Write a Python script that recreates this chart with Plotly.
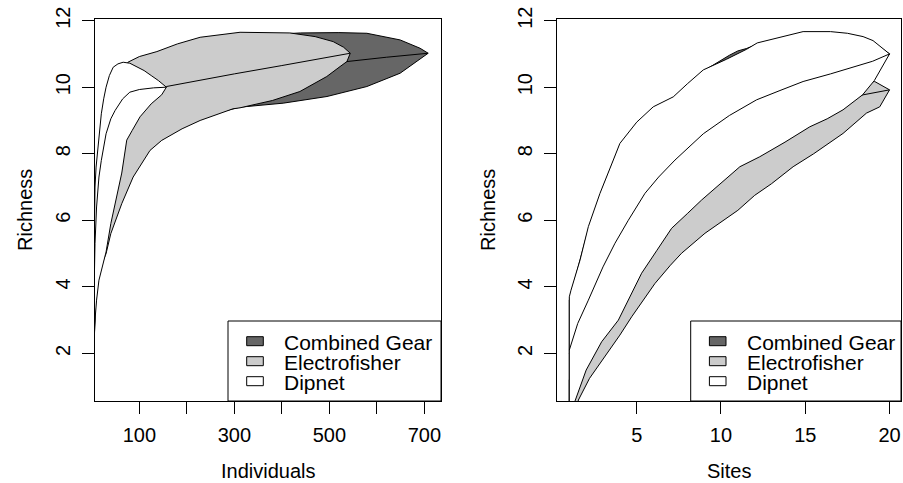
import plotly.graph_objects as go

# ---------------- Left panel: individual-based rarefaction ----------------
ind_comb_up_x = [1, 5, 10, 20, 40, 76, 150, 250, 350, 439, 520, 579, 649, 691, 708]
ind_comb_up_y = [1, 4.0, 6.0, 8.0, 9.5, 10.5, 11.0, 11.4, 11.56, 11.63, 11.64, 11.62, 11.42, 11.17, 11.02]
ind_comb_mean_x = [1, 10, 20, 40, 80, 150, 250, 350, 450, 537, 620, 708]
ind_comb_mean_y = [1, 4.2, 6.0, 7.6, 8.9, 9.7, 10.15, 10.42, 10.6, 10.77, 10.9, 11.02]
ind_comb_lo_x = [1, 6.7, 10, 20, 30, 60, 100, 200, 312, 403, 495, 579, 649, 708]
ind_comb_lo_y = [1, 3.5, 4.2, 5.2, 5.8, 7.0, 7.9, 9.0, 9.4, 9.52, 9.72, 10.02, 10.42, 11.02]

ind_ef_up_x = [1, 5, 10, 20, 35, 50, 76, 100, 137, 180, 228, 312, 417, 470, 508, 530, 544]
ind_ef_up_y = [1, 4.0, 6.5, 8.4, 9.6, 10.2, 10.75, 10.92, 11.07, 11.3, 11.5, 11.65, 11.63, 11.52, 11.37, 11.2, 11.02]
ind_ef_mean_x = [1, 10, 20, 34, 60, 100, 157, 228, 300, 400, 480, 544]
ind_ef_mean_y = [1, 4.5, 6.3, 7.5, 8.6, 9.45, 10.02, 10.22, 10.4, 10.65, 10.85, 11.02]
ind_ef_lo_x = [1, 6.7, 10, 15, 20, 30, 40, 63, 87, 122.5, 147, 190, 228, 297, 312, 380, 438, 494.5, 522.5, 537, 544]
ind_ef_lo_y = [1, 3.3, 3.9, 4.4, 4.65, 5.0, 5.6, 6.5, 7.3, 8.1, 8.4, 8.75, 9.0, 9.35, 9.38, 9.6, 9.87, 10.32, 10.62, 10.77, 11.02]

ind_dip_up_x = [1, 4, 6.7, 9, 12.4, 16, 20, 25, 30, 37, 45, 55, 66, 80, 95, 110, 125, 140, 157]
ind_dip_up_y = [1, 5.0, 7.0, 7.6, 8.1, 8.7, 9.2, 9.65, 10.0, 10.35, 10.6, 10.7, 10.75, 10.72, 10.62, 10.5, 10.35, 10.2, 10.0]
ind_dip_mean_x = [1, 4, 6.7, 10, 15, 20, 24, 30, 40, 49, 65, 80, 100, 130, 157]
ind_dip_mean_y = [1, 3.5, 5.3, 6.4, 7.3, 7.8, 8.1, 8.6, 9.05, 9.3, 9.65, 9.85, 9.93, 9.98, 10.0]
ind_dip_lo_x = [1, 4, 6.7, 10, 15, 22, 30, 40, 49, 63, 73.5, 85, 101.5, 125, 147, 157]
ind_dip_lo_y = [1, 2.0, 3.0, 3.6, 4.2, 4.6, 5.05, 5.9, 6.5, 7.42, 8.41, 8.7, 9.11, 9.5, 9.77, 10.0]

# ---------------- Right panel: sample-based rarefaction ----------------
site_comb_up_x = [1, 2, 3, 4, 5, 6, 7, 8, 9, 10, 10.5, 11, 11.5, 12, 13, 14, 15, 16, 17, 18, 19, 20]
site_comb_up_y = [3.6, 5.5, 7.0, 8.25, 8.9, 9.36, 9.62, 10.04, 10.5, 10.82, 10.96, 11.09, 11.16, 11.26, 11.4, 11.52, 11.62, 11.62, 11.6, 11.54, 11.36, 11.0]
site_comb_mean_x = [1, 2, 3, 4, 5, 6, 7, 8, 9, 10, 11, 12, 13, 14, 15, 16, 17, 18, 19, 20]
site_comb_mean_y = [2.0, 3.5, 4.5, 5.6, 6.4, 7.0, 7.6, 8.2, 8.5, 8.9, 9.3, 9.6, 9.8, 10.05, 10.2, 10.4, 10.55, 10.65, 10.8, 11.0]
site_comb_lo_x = [1, 2, 3, 4, 5, 6, 7, 8, 9, 10, 11, 12, 13, 14, 15, 16, 17, 18, 19, 20]
site_comb_lo_y = [0.0, 1.7, 2.6, 3.3, 4.2, 5.05, 5.85, 6.3, 6.8, 7.2, 7.7, 8.0, 8.3, 8.6, 8.9, 9.2, 9.4, 9.9, 10.3, 11.0]

site_ef_up_x = [1, 2, 4, 6, 8, 10, 12, 14, 16, 18, 19.12, 20]
site_ef_up_y = [1.2, 3.0, 5.0, 6.5, 7.6, 8.4, 9.0, 9.4, 9.8, 10.1, 10.17, 9.92]
site_ef_mean_x = [1, 2, 4, 6, 8, 10, 12, 14, 16, 17.24, 18.43, 20]
site_ef_mean_y = [0.6, 2.0, 4.0, 5.4, 6.6, 7.4, 8.1, 8.7, 9.3, 9.55, 9.77, 9.92]
site_ef_lo_x = [1, 1.54, 2.2, 3.12, 4.0, 4.7, 6.08, 7.0, 7.66, 9.05, 10.0, 11.0, 12.0, 13.0, 14.28, 15.5, 17.24, 18.63, 19.42, 20]
site_ef_lo_y = [-0.6, 0.6, 1.25, 1.9, 2.55, 3.1, 4.1, 4.65, 5.01, 5.61, 5.95, 6.3, 6.75, 7.1, 7.61, 8.0, 8.61, 9.22, 9.41, 9.92]

site_dip_up_x = [1, 1.1, 1.64, 2.13, 2.82, 3.12, 3.61, 4.0, 5.0, 5.98, 7.17, 8.0, 8.95, 10.33, 11.52, 12.15, 13.5, 14.87, 16.5, 17.5, 18.43, 19.02, 20]
site_dip_up_y = [3.7, 3.9, 4.81, 5.81, 6.81, 7.21, 7.81, 8.31, 8.95, 9.41, 9.71, 10.1, 10.52, 10.84, 11.14, 11.33, 11.5, 11.67, 11.67, 11.62, 11.52, 11.4, 11.0]
site_dip_mean_x = [1, 1.5, 2.13, 3.0, 3.71, 4.5, 5.49, 6.3, 7.27, 8.1, 8.95, 10.5, 12.11, 13.5, 14.87, 16.5, 18.04, 19.0, 20]
site_dip_mean_y = [2.1, 2.9, 3.6, 4.6, 5.31, 6.0, 6.81, 7.3, 7.81, 8.2, 8.6, 9.15, 9.62, 9.9, 10.17, 10.4, 10.62, 10.78, 11.0]
site_dip_lo_x = [1, 1.34, 2.0, 2.92, 3.91, 5.29, 6.2, 7.07, 8.0, 8.85, 10.0, 11.12, 12.3, 13.8, 15.27, 16.3, 17.24, 18.4, 19.1, 20]
site_dip_lo_y = [-0.3, 0.57, 1.5, 2.35, 3.0, 4.41, 5.1, 5.76, 6.2, 6.61, 7.12, 7.61, 7.91, 8.35, 8.81, 9.05, 9.32, 9.77, 10.2, 11.0]

# ---------------- Axes / labels ----------------
ind_ticks = [100, 200, 300, 400, 500, 600, 700]
ind_ticktext = ["100", "", "300", "", "500", "", "700"]
site_ticks = [5, 10, 15, 20]
site_ticktext = ["5", "10", "15", "20"]
rich_ticks = [2, 4, 6, 8, 10, 12]
rich_ticktext = ["2", "4", "6", "8", "10", "12"]
legend_labels = ["Combined Gear", "Electrofisher", "Dipnet"]
fill_colors = ["#666666", "#cccccc", "#ffffff"]

W, H = 903, 483
FONT = "Liberation Sans, Arial, Helvetica, sans-serif"

def px(xp):
    return xp / W

def py(yp):
    return (H - yp) / H

fig = go.Figure()

def add_band(ux, uy, mx, my, lx, ly, color, xa, ya):
    bx = list(ux) + list(lx)[::-1] + [ux[0]]
    by = list(uy) + list(ly)[::-1] + [uy[0]]
    fig.add_trace(go.Scatter(x=bx, y=by, mode="lines", fill="toself", fillcolor=color,
                             line=dict(color="black", width=1), xaxis=xa, yaxis=ya,
                             hoverinfo="skip", showlegend=False))
    fig.add_trace(go.Scatter(x=mx, y=my, mode="lines", line=dict(color="black", width=1),
                             xaxis=xa, yaxis=ya, hoverinfo="skip", showlegend=False))

add_band(ind_comb_up_x, ind_comb_up_y, ind_comb_mean_x, ind_comb_mean_y, ind_comb_lo_x, ind_comb_lo_y, fill_colors[0], "x", "y")
add_band(ind_ef_up_x, ind_ef_up_y, ind_ef_mean_x, ind_ef_mean_y, ind_ef_lo_x, ind_ef_lo_y, fill_colors[1], "x", "y")
add_band(ind_dip_up_x, ind_dip_up_y, ind_dip_mean_x, ind_dip_mean_y, ind_dip_lo_x, ind_dip_lo_y, fill_colors[2], "x", "y")

add_band(site_comb_up_x, site_comb_up_y, site_comb_mean_x, site_comb_mean_y, site_comb_lo_x, site_comb_lo_y, fill_colors[0], "x2", "y2")
add_band(site_ef_up_x, site_ef_up_y, site_ef_mean_x, site_ef_mean_y, site_ef_lo_x, site_ef_lo_y, fill_colors[1], "x2", "y2")
add_band(site_dip_up_x, site_dip_up_y, site_dip_mean_x, site_dip_mean_y, site_dip_lo_x, site_dip_lo_y, fill_colors[2], "x2", "y2")

axis_common = dict(showline=True, mirror=True, linecolor="black", linewidth=1,
                   ticks="outside", ticklen=12, tickwidth=1, tickcolor="black", automargin=False,
                   showgrid=False, zeroline=False, tickfont=dict(size=20, family=FONT, color="black"))

ydom = [py(401), py(19.3)]
fig.update_layout(
    width=W, height=H, autosize=False, margin=dict(l=0, r=0, t=0, b=0, pad=0),
    paper_bgcolor="white", plot_bgcolor="white", showlegend=False,
    font=dict(family=FONT, size=20, color="black"),
    xaxis=dict(domain=[px(95), px(441)], range=[6.7, 735], anchor="y",
               tickmode="array", tickvals=ind_ticks, ticktext=ind_ticktext,
               ticklabelstandoff=4, **axis_common),
    yaxis=dict(domain=ydom, range=[0.57, 12.04], anchor="x",
               tickmode="array", tickvals=rich_ticks, ticktext=rich_ticktext,
               tickangle=-90, ticklabelstandoff=4, **axis_common),
    xaxis2=dict(domain=[px(557), px(901)], range=[0.27, 20.68], anchor="y2",
                tickmode="array", tickvals=site_ticks, ticktext=site_ticktext,
                ticklabelstandoff=4, **axis_common),
    yaxis2=dict(domain=ydom, range=[0.57, 12.04], anchor="x2",
                tickmode="array", tickvals=rich_ticks, ticktext=rich_ticktext,
                tickangle=-90, ticklabelstandoff=4, **axis_common),
)

# axis titles
ann = []
ann.append(dict(text="Individuals", x=px(268), y=py(471), xref="paper", yref="paper",
                showarrow=False, xanchor="center", yanchor="middle", font=dict(size=20)))
ann.append(dict(text="Sites", x=px(729), y=py(471), xref="paper", yref="paper",
                showarrow=False, xanchor="center", yanchor="middle", font=dict(size=20)))
ann.append(dict(text="Richness", x=px(25), y=py(210), xref="paper", yref="paper", textangle=-90,
                showarrow=False, xanchor="center", yanchor="middle", font=dict(size=20)))
ann.append(dict(text="Richness", x=px(488), y=py(210), xref="paper", yref="paper", textangle=-90,
                showarrow=False, xanchor="center", yanchor="middle", font=dict(size=20)))

# legends (drawn as in base R: boxed, with filled squares)
shapes = []
for box_left, box_right in [(228, 441), (690.7, 901)]:
    shapes.append(dict(type="rect", xref="paper", yref="paper", x0=px(box_left), x1=px(box_right),
                       y0=py(401), y1=py(321), fillcolor="white", line=dict(color="black", width=1),
                       layer="above"))
    for i, (lab, col) in enumerate(zip(legend_labels, fill_colors)):
        cy = 341.2 + 20 * i
        shapes.append(dict(type="rect", xref="paper", yref="paper",
                           x0=px(box_left + 18.7), x1=px(box_left + 35.3),
                           y0=py(cy + 4.5), y1=py(cy - 4.5), fillcolor=col,
                           line=dict(color="black", width=1), layer="above"))
        ann.append(dict(text=lab, x=px(box_left + 54), y=py(cy + 1), xref="paper", yref="paper",
                        showarrow=False, xanchor="left", yanchor="middle", font=dict(size=21)))

fig.update_layout(shapes=shapes, annotations=ann)
fig.write_html(
    "out.html",
    config={"responsive": False, "displayModeBar": False},
    default_width="903px",
    default_height="483px",
    post_script="document.body.style.margin='0px';document.body.style.overflow='hidden';",
)
